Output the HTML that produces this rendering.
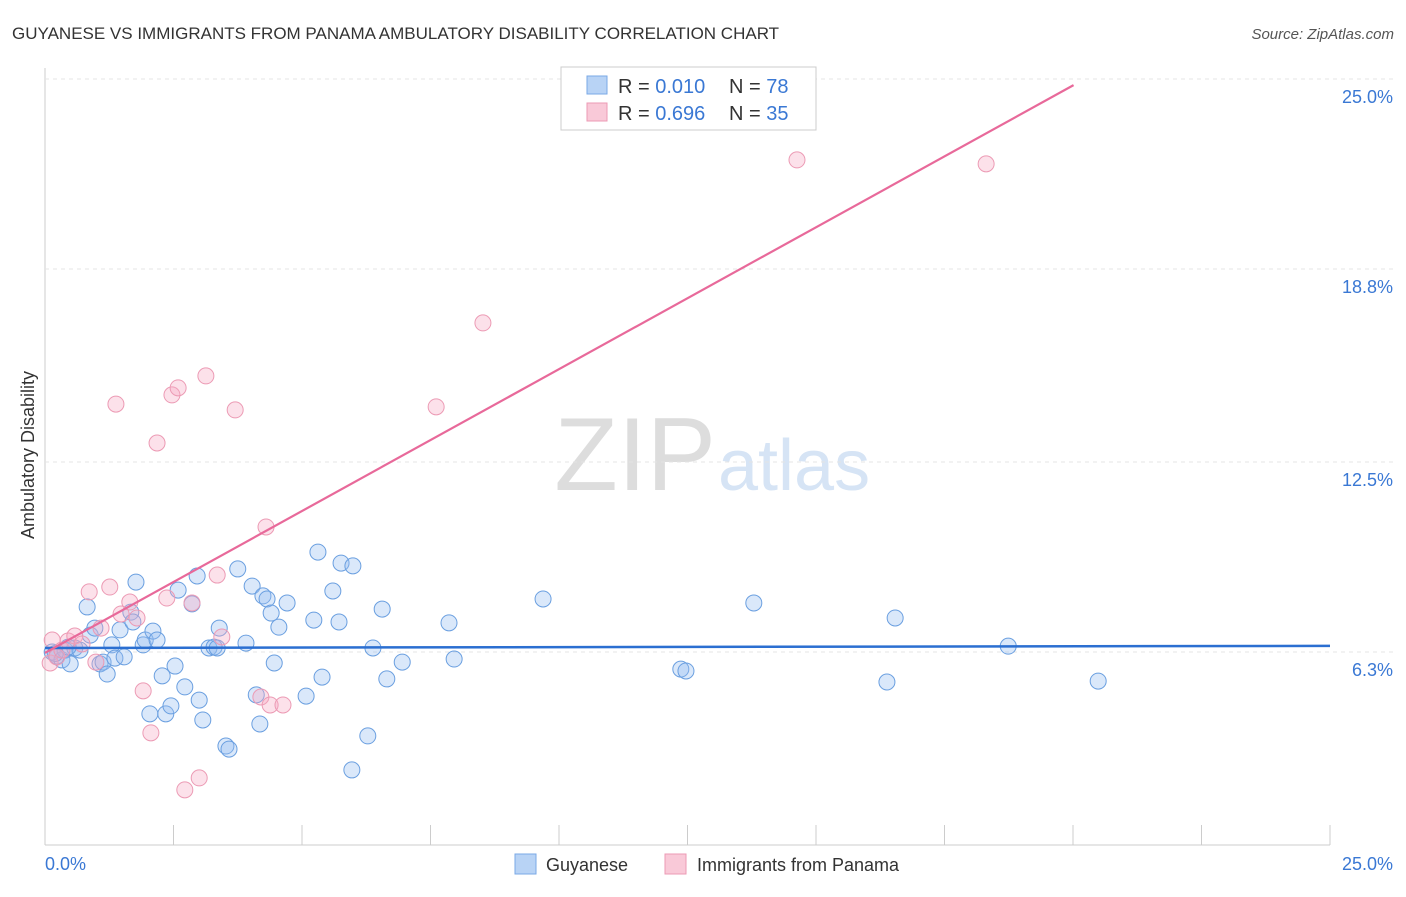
<!DOCTYPE html>
<html><head><meta charset="utf-8"><style>
body{margin:0;background:#fff;font-family:"Liberation Sans",sans-serif}
svg text{font-family:"Liberation Sans",sans-serif}
</style></head><body>
<svg id="chart" width="1406" height="892">
<text x="12" y="39" font-size="17" fill="#333">GUYANESE VS IMMIGRANTS FROM PANAMA AMBULATORY DISABILITY CORRELATION CHART</text>
<text x="1394" y="39" font-size="15" fill="#555" font-style="italic" text-anchor="end">Source: ZipAtlas.com</text>
<text x="716" y="490" font-size="104" fill="#ddd" text-anchor="end" font-family="Liberation Serif">ZIP</text>
<text x="718" y="490" font-size="72" fill="#d6e4f5">atlas</text>
<text transform="translate(34,455) rotate(-90)" font-size="18" fill="#333" text-anchor="middle">Ambulatory Disability</text>
<g id="grid"></g><g id="pts"></g><g id="lines"></g>
<g>
<rect x="561" y="67" width="255" height="63" fill="#fff" stroke="#ccc"/>
<rect x="587" y="76" width="20" height="18" fill="#b8d3f5" stroke="#7aa8e6"/>
<rect x="587" y="103" width="20" height="18" fill="#f9c9d8" stroke="#ec9ab4"/>
<text x="618" y="93" font-size="20" fill="#333">R = <tspan fill="#3a78d4">0.010</tspan></text>
<text x="729" y="93" font-size="20" fill="#333">N = <tspan fill="#3a78d4">78</tspan></text>
<text x="618" y="120" font-size="20" fill="#333">R = <tspan fill="#3a78d4">0.696</tspan></text>
<text x="729" y="120" font-size="20" fill="#333">N = <tspan fill="#3a78d4">35</tspan></text>
</g>
<g>
<rect x="515" y="854" width="21" height="20" fill="#b8d3f5" stroke="#7aa8e6"/>
<text x="546" y="871" font-size="18" fill="#333">Guyanese</text>
<rect x="665" y="854" width="21" height="20" fill="#f9c9d8" stroke="#ec9ab4"/>
<text x="697" y="871" font-size="18" fill="#333">Immigrants from Panama</text>
</g>
</svg>
<script>
const yTicks=[6.3,12.5,18.8,25.0];
const xTickLabels=["0.0%","25.0%"];
const blueX=[0.14,0.23,0.33,0.39,0.49,0.58,0.68,0.82,0.88,0.97,1.07,1.13,1.21,1.30,1.36,1.46,1.54,1.67,1.71,1.77,1.91,1.95,2.10,2.18,2.04,2.28,2.35,2.45,2.53,2.59,2.72,2.86,2.96,3.00,3.07,3.19,3.29,3.35,3.39,3.52,3.58,3.75,3.91,4.03,4.11,4.18,4.24,4.32,4.40,4.55,4.46,4.71,5.08,5.23,5.31,5.39,5.60,5.72,5.76,5.99,5.97,6.28,6.38,6.56,6.65,6.95,7.86,7.96,9.69,12.37,12.47,13.79,16.38,16.54,18.74,20.49,0.45,0.20];
const blueY=[6.30,6.17,6.04,6.36,5.91,6.43,6.36,7.77,6.85,7.08,5.91,5.97,5.58,6.53,6.10,7.02,6.14,7.60,7.28,8.58,6.53,6.69,6.98,6.69,4.28,5.52,4.28,4.54,5.84,8.32,5.16,7.87,8.78,4.73,4.08,6.43,6.46,6.43,7.08,3.23,3.13,9.01,6.59,8.45,4.90,3.95,8.13,8.03,7.57,7.11,5.94,7.90,4.86,7.34,9.56,5.48,8.29,7.28,9.20,9.11,2.45,3.56,6.43,7.70,5.42,5.97,7.25,6.07,8.03,5.74,5.68,7.90,5.32,7.41,6.49,5.35,6.46,6.25];
const pinkX=[0.14,0.10,0.23,0.33,0.45,0.58,0.72,0.86,0.99,1.09,1.26,1.38,1.48,1.65,1.79,1.91,2.06,2.18,2.37,2.47,2.59,2.72,2.86,3.00,3.13,3.35,3.44,3.70,4.20,4.30,4.38,4.63,7.61,8.52,14.63,18.31];
const pinkY=[6.69,5.94,6.14,6.36,6.66,6.82,6.56,8.26,5.97,7.08,8.42,14.39,7.54,7.93,7.41,5.03,3.66,13.12,8.06,14.69,14.92,1.80,7.90,2.19,15.31,8.81,6.79,14.20,4.83,10.38,4.57,4.57,14.30,17.04,22.36,22.23];
const blueFit=[6.43,0.0028];
const pinkFit=[6.27,0.926];
const pinkEndY=24.8;
const NS="http://www.w3.org/2000/svg";
const X=v=>45+v*(1285/25), Y=v=>845-v*(766/25);
function mk(t,p,a){const e=document.createElementNS(NS,t);for(const k in a)e.setAttribute(k,a[k]);p.appendChild(e);return e;}
const grid=document.getElementById('grid');
mk('line',grid,{x1:45,y1:68,x2:45,y2:845,stroke:'#ccc'});
mk('line',grid,{x1:45,y1:845,x2:1330,y2:845,stroke:'#ccc'});
yTicks.forEach(t=>{
 const l=mk('line',grid,{x1:45,x2:1394,y1:Y(t),y2:Y(t),stroke:'#e4e4e4','stroke-dasharray':'4,4'});
 
 
 const tx=mk('text',grid,{x:1393,y:Y(t)+24,'font-size':18,fill:'#3a78d4','text-anchor':'end'});
 tx.textContent=t.toFixed(1)+'%';
 
 
});
for(let i=1;i<=10;i++){const x=X(i*2.5);mk('line',grid,{x1:x,x2:x,y1:825,y2:845,stroke:'#ccc'});}
[[0,45,'start'],[1,1393,'end']].forEach(([i,x,a])=>{
 const tx=mk('text',grid,{x:x,y:870,'font-size':18,fill:'#3a78d4','text-anchor':a});
 tx.textContent=xTickLabels[i];
 
 
});
const pts=document.getElementById('pts');
blueX.forEach((x,i)=>{
 const c=mk('circle',pts,{cx:X(x),cy:Y(blueY[i]),r:8,fill:'rgba(150,190,240,0.35)',stroke:'#6a9fe0','stroke-width':1});
 
 
});
pinkX.forEach((x,i)=>{
 const c=mk('circle',pts,{cx:X(x),cy:Y(pinkY[i]),r:8,fill:'rgba(245,170,195,0.35)',stroke:'#ec9ab4','stroke-width':1});
 
 
});
const lines=document.getElementById('lines');
const bl=mk('line',lines,{x1:X(0),y1:Y(blueFit[0]),x2:X(25),y2:Y(blueFit[0]+25*blueFit[1]),stroke:'#2b6fd1','stroke-width':2.5});


const xe=(pinkEndY-pinkFit[0])/pinkFit[1];
const pl=mk('line',lines,{x1:X(0),y1:Y(pinkFit[0]),x2:X(xe),y2:Y(pinkEndY),stroke:'#e8699a','stroke-width':2.2});


</script>
</body></html>
